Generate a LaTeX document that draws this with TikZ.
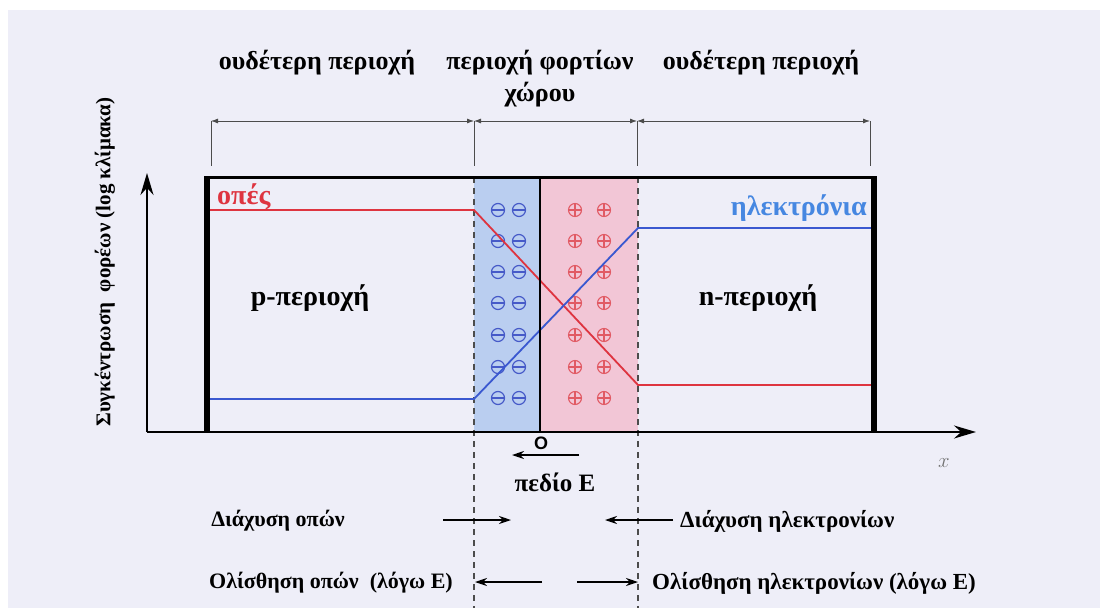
\documentclass[tikz,border=0pt]{standalone}
\usepackage{fontspec}
\setmainfont{Liberation Serif}
\newfontfamily\axisfont{Liberation Sans}
\usetikzlibrary{arrows.meta,positioning}
\definecolor{paper}{RGB}{238,238,248}
\definecolor{holered}{RGB}{222,52,64}
\definecolor{elecblue}{RGB}{58,88,208}
\definecolor{eleclabel}{RGB}{70,135,225}
\definecolor{negfill}{RGB}{186,206,240}
\definecolor{posfill}{RGB}{242,198,214}
\definecolor{negmark}{RGB}{70,90,200}
\definecolor{posmark}{RGB}{225,90,100}
\tikzset{
  lbl/.style={font=\fontsize{21}{25}\selectfont\bfseries, inner sep=0pt},
  botlbl/.style={font=\fontsize{22}{26}\selectfont\bfseries, inner sep=0pt},
  toplbl/.style={font=\fontsize{26}{32}\selectfont\bfseries, inner sep=0pt},
  reglbl/.style={font=\fontsize{28}{32}\selectfont\bfseries, inner sep=0pt},
  axisline/.style={line width=2pt, -{Stealth[length=22pt,width=13pt]}},
  flowarrow/.style={line width=1.8pt, -{Stealth[length=12pt,width=8pt]}},
  dimarrow/.style={line width=0.8pt, draw=black!70, {Latex[length=7pt,width=5pt]}-{Latex[length=7pt,width=5pt]}},
  tickline/.style={line width=1pt, draw=black!70},
  edgeline/.style={line width=1.2pt, draw=black!70, dash pattern=on 6pt off 5pt},
  carrier/.style={line width=1.8pt}
}
\begin{document}
\begin{tikzpicture}[x=1pt,y=-1pt]
\useasboundingbox (0,0) rectangle (1100,608);
\fill[paper] (8,10) rectangle (1100,608);

% space charge region
\fill[negfill] (474,179) rectangle (540,431);
\fill[posfill] (540,179) rectangle (638,431);
\foreach \yy in {210,241,272,303,335,367,398} {
  \foreach \xx in {498,519} {
    \draw[negmark, line width=1.2pt] (\xx,\yy) circle (6.5pt);
    \draw[negmark, line width=1.2pt] (\xx-6.5,\yy) -- (\xx+6.5,\yy);
  }
  \foreach \xx in {575,604} {
    \draw[posmark, line width=1.1pt] (\xx,\yy) circle (6.5pt);
    \draw[posmark, line width=1.1pt] (\xx-6.5,\yy) -- (\xx+6.5,\yy)
      (\xx,\yy-6.5) -- (\xx,\yy+6.5);
  }
}

% region borders
\coordinate (pl) at (211,121); \coordinate (ml) at (474,121);
\coordinate (mr) at (637,121); \coordinate (nr) at (870,121);
\foreach \c in {pl,ml,mr,nr} \draw[tickline] (\c) -- ++(0,45);
\draw[dimarrow] (pl) -- (ml);
\draw[dimarrow] (ml) -- (mr);
\draw[dimarrow] (mr) -- (nr);
\draw[edgeline] (474,177) -- (474,608);
\draw[edgeline] (638,177) -- (638,608);

% carrier profiles
\draw[carrier, holered] (210,210) -- (474,210) -- (638,385) -- (872,385);
\draw[carrier, elecblue] (210,399) -- (474,399) -- (638,228) -- (872,228);

% sample and axes
\draw[line width=3pt] (207,177) -- (874,177);
\draw[line width=1.8pt] (540,177) -- (540,432);
\fill (204,176) rectangle (210,432);
\fill (871,176) rectangle (877,432);
\coordinate (orig) at (147,432);
\coordinate (ytop) at (147,173);
\coordinate (xend) at (976,432);
\draw[axisline] (orig) -- (ytop);
\draw[axisline] (orig) -- (xend);

% labels
\node[toplbl] (neutp) at (317,63) {ουδέτερη περιοχή};
\node[toplbl, align=center] (scr) at (540,79) {περιοχή φορτίων\\χώρου};
\node[toplbl] (neutn) at (761,63) {ουδέτερη περιοχή};
\node[reglbl, holered, anchor=west] (holes) at (217,197) {οπές};
\node[reglbl, eleclabel, anchor=east] (elecs) at (867,208) {ηλεκτρόνια};
\node[reglbl] (preg) at (310,298) {p-περιοχή};
\node[reglbl] (nreg) at (758,298) {n-περιοχή};
\node[lbl, rotate=90] (ylab) at (105,262) {Συγκέντρωση\ \ φορέων (log κλίμακα)};
\node[text=black!55, inner sep=0pt] (xlab) at (944,463) {\fontsize{20}{22}\selectfont$x$};
\node[font=\axisfont\fontsize{18}{20}\selectfont\bfseries, inner sep=1pt] (zero) at (541,443) {O};

% field and currents
\coordinate (fs) at (579,455); \coordinate (fe) at (512,455);
\draw[flowarrow] (fs) -- (fe);
\node[lbl, font=\fontsize{25}{28}\selectfont\bfseries] (field) at (555,482) {πεδίο E};
\node[botlbl] (dhol) at (278,521) {Διάχυση οπών};
\node[botlbl, font=\fontsize{23}{26}\selectfont\bfseries, anchor=west] (delc) at (680,521) {Διάχυση ηλεκτρονίων};
\coordinate (dhs) at (443,520); \coordinate (dhe) at (511,520);
\coordinate (des) at (673,520); \coordinate (dee) at (605,520);
\draw[flowarrow] (dhs) -- (dhe);
\draw[flowarrow] (des) -- (dee);
\node[botlbl] (rhol) at (331,583) {Ολίσθηση οπών\ \ (λόγω E)};
\node[botlbl, font=\fontsize{23}{26}\selectfont\bfseries, anchor=west] (relc) at (652,583) {Ολίσθηση ηλεκτρονίων (λόγω E)};
\coordinate (rhs) at (542,582); \coordinate (rhe) at (475,582);
\coordinate (res) at (577,582); \coordinate (ree) at (638,582);
\draw[flowarrow] (rhs) -- (rhe);
\draw[flowarrow] (res) -- (ree);
\end{tikzpicture}
\end{document}
